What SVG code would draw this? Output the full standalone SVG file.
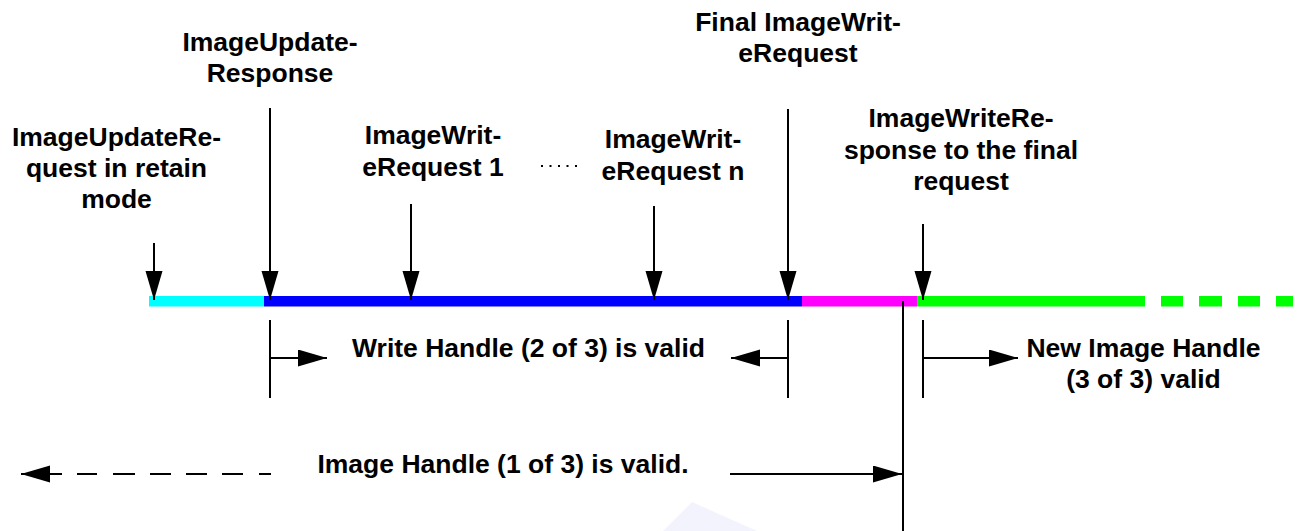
<svg xmlns="http://www.w3.org/2000/svg" width="1299" height="531" viewBox="0 0 1299 531">
<style>
text{font-family:"Liberation Sans",Arial,sans-serif;font-weight:bold;font-size:26.5px;fill:#000;text-anchor:middle}
.ln{stroke:#000;stroke-width:2;fill:none}
.ar{stroke:#000;stroke-width:2;fill:none;marker-end:url(#ah)}
</style>
<defs>
<marker id="ah" markerUnits="userSpaceOnUse" markerWidth="30" markerHeight="18" refX="29" refY="8.5" orient="auto" viewBox="0 0 30 18">
<path d="M0,0 L29,8.5 L0,17 Z" fill="#000"/>
</marker>
</defs>
<rect width="1299" height="531" fill="#fff"/>
<polygon points="692,502 757,531 663,531" fill="#f3f3fd"/>
<g id="timeline">
<rect x="149" y="296" width="115" height="10.5" fill="#00ffff"/>
<rect x="264" y="296" width="538" height="10.5" fill="#0000ff"/>
<rect x="802" y="296" width="115" height="10.5" fill="#ff00ff"/>
<rect x="917" y="296" width="228" height="10.5" fill="#00ff00"/>
<rect x="1161" y="296" width="22" height="10.5" fill="#00ff00"/>
<rect x="1199" y="296" width="23" height="10.5" fill="#00ff00"/>
<rect x="1238" y="296" width="22" height="10.5" fill="#00ff00"/>
<rect x="1276" y="296" width="17" height="10.5" fill="#00ff00"/>
</g>
<g id="n-update-request"><text x="116.5" y="146">ImageUpdateRe-</text><text x="116.5" y="177">quest in retain</text><text x="116.5" y="208">mode</text></g>
<g id="n-update-response"><text x="270" y="51">ImageUpdate-</text><text x="270" y="82">Response</text></g>
<g id="n-write-1"><text x="433" y="144">ImageWrit-</text><text x="433" y="176">eRequest 1</text></g>
<g id="n-dots"><line x1="541" y1="166" x2="578" y2="166" stroke="#000" stroke-width="2" stroke-dasharray="2 6.5"/></g>
<g id="n-write-n"><text x="673" y="148">ImageWrit-</text><text x="673" y="180">eRequest n</text></g>
<g id="n-final-write"><text x="798" y="31">Final ImageWrit-</text><text x="798" y="62">eRequest</text></g>
<g id="n-write-response"><text x="961" y="127">ImageWriteRe-</text><text x="961" y="159">sponse to the final</text><text x="961" y="190">request</text></g>
<g id="n-new-handle"><text x="1143.5" y="357">New Image Handle</text><text x="1143.5" y="388">(3 of 3) valid</text></g>
<g id="n-write-handle"><text x="528.5" y="357">Write Handle (2 of 3) is valid</text></g>
<g id="n-image-handle"><text x="503" y="473">Image Handle (1 of 3) is valid.</text></g>
<g id="connectors">
<line class="ar" x1="154" y1="243" x2="154" y2="300"/>
<line class="ar" x1="270" y1="108" x2="270" y2="300"/>
<line class="ar" x1="411" y1="204" x2="411" y2="300"/>
<line class="ar" x1="654" y1="206" x2="654" y2="300"/>
<line class="ar" x1="788" y1="109" x2="788" y2="300"/>
<line class="ar" x1="923" y1="224" x2="923" y2="300"/>
<line class="ln" x1="270" y1="320" x2="270" y2="398"/>
<line class="ar" x1="270" y1="358" x2="327" y2="358"/>
<line class="ln" x1="788" y1="320" x2="788" y2="398"/>
<line class="ar" x1="788" y1="358" x2="731" y2="358"/>
<line class="ln" x1="923" y1="320" x2="923" y2="398"/>
<line class="ar" x1="923" y1="358" x2="1018" y2="358"/>
<line class="ln" x1="903" y1="301" x2="903" y2="531"/>
<line class="ar" x1="730" y1="474" x2="902" y2="474"/>
<line class="ar" x1="271" y1="474" x2="21" y2="474" stroke-dasharray="12 16 21 15 21 15 21 15 22 16 20 15 100"/>
</g>
</svg>
